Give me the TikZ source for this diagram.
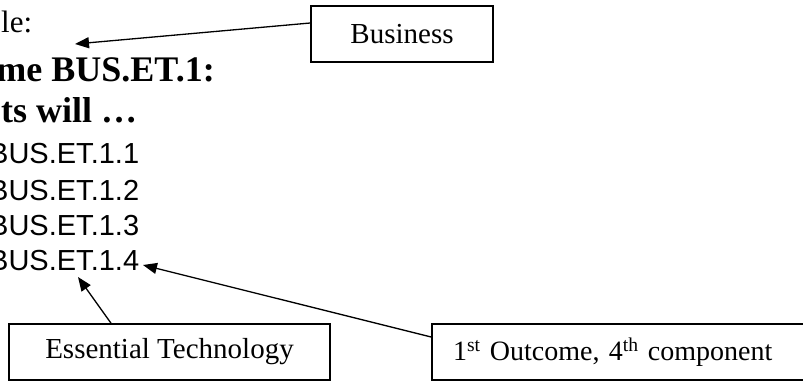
\documentclass[tikz,border=0pt]{standalone}
\usepackage{fontspec}
\setmainfont{Liberation Serif}
\newfontfamily\arialfont{Liberation Sans}
\usetikzlibrary{arrows.meta,positioning}

\tikzset{
  txt/.style={inner sep=0pt,anchor=base west},
  callout/.style={draw,line width=1.6pt,inner sep=0pt,minimum height=56pt,
    font=\fontsize{29}{34}\selectfont},
  pointer/.style={-{Triangle[length=14pt,width=11pt]},line width=1.3pt}
}

\begin{document}
\begin{tikzpicture}[x=1pt,y=-1pt]
\useasboundingbox (0,0) rectangle (803,381);
\clip (0,0) rectangle (803,381);
% text block, cut at the left edge
\node[txt,font=\fontsize{31}{36}\selectfont] (ex) at (1,32) {le:};
\node[txt,anchor=base east,font=\fontsize{36}{42}\selectfont\bfseries] (outc) at (215,81) {me BUS.ET.1:};
\node[txt,font=\fontsize{36}{42}\selectfont\bfseries] (stud) at (1,122) {ts will \ldots};
\node[txt,font=\arialfont\fontsize{29}{34}\selectfont] (c1) at (-11,163) {BUS.ET.1.1};
\node[txt,font=\arialfont\fontsize{29}{34}\selectfont] (c2) at (-11,200) {BUS.ET.1.2};
\node[txt,font=\arialfont\fontsize{29}{34}\selectfont] (c3) at (-11,235) {BUS.ET.1.3};
\node[txt,font=\arialfont\fontsize{29}{34}\selectfont] (c4) at (-11,270) {BUS.ET.1.4};
% callout boxes
\node[callout,minimum width=182pt] (bus) at (402,34) {Business};
\node[callout,minimum width=321pt] (tech) at (169.5,352) {Essential Technology};
\node[callout,text width=334pt,inner xsep=21pt,align=left,font=\fontsize{28}{34}\selectfont] (comp) at (620,352) {1\textsuperscript{st} Outcome, 4\textsuperscript{th} component};
% arrow tips
\coordinate (busTip) at (75,44);
\coordinate (techTip) at (78,277);
\coordinate (compTip) at (143,265);
\draw[pointer] ([yshift=11pt]bus.west) -- (busTip);
\draw[pointer] ([xshift=-58.5pt]tech.north) -- (techTip);
\draw[pointer] ([yshift=15pt]comp.west) -- (compTip);
\end{tikzpicture}
\end{document}
